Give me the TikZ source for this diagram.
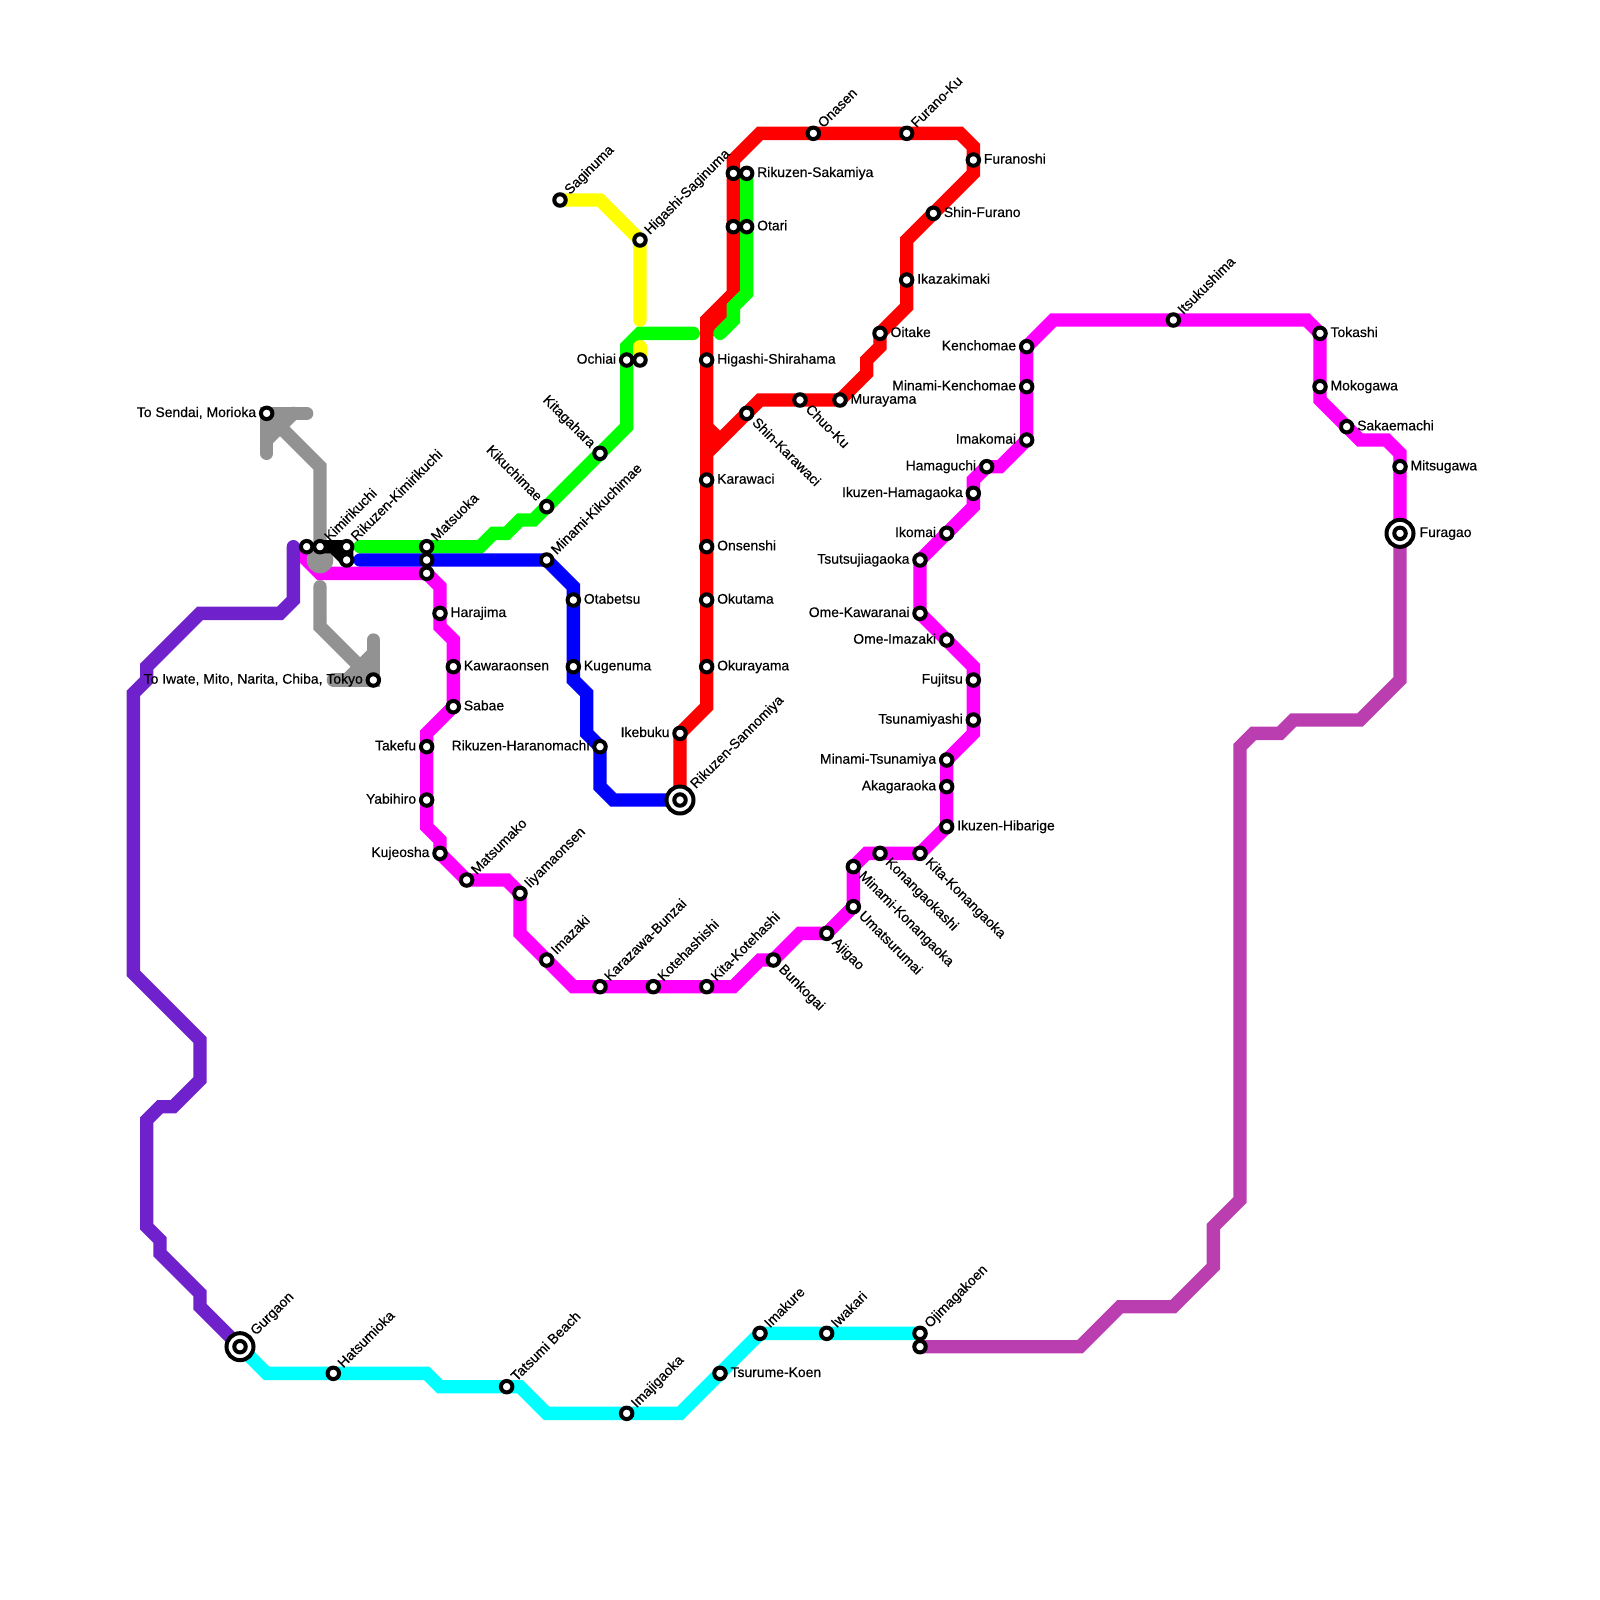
\documentclass[tikz,border=0pt]{standalone}
\usepackage{fontspec}
\setmainfont[FakeBold=0.4]{Liberation Sans}
\usetikzlibrary{backgrounds}

\definecolor{lineviolet}{HTML}{6F22CC}
\definecolor{lineorchid}{HTML}{BB3EB0}
\definecolor{linegray}{HTML}{929292}
\definecolor{linered}{RGB}{255,0,0}
\definecolor{linegreen}{RGB}{0,255,0}
\definecolor{lineblue}{RGB}{0,0,255}
\definecolor{lineyellow}{RGB}{255,255,0}
\definecolor{linecyan}{RGB}{0,255,255}
\definecolor{linemagenta}{RGB}{255,0,255}

\tikzset{
  line/.style={line width=10pt, line cap=round, line join=miter, miter limit=4},
  stn/.style={circle, draw=black, fill=white, line width=3pt, minimum size=8.6pt, inner sep=0pt},
  stnbig/.style={circle, draw=black, fill=white, line width=3pt, minimum size=20.25pt, inner sep=0pt},
  txt/.style={inner sep=0pt, font=\fontsize{10.45}{10.45}\selectfont, text height=7.5pt, text depth=2pt},
  toR/.style={txt, anchor=west, xshift=7.7pt},
  toRbig/.style={txt, anchor=west, xshift=14.5pt},
  toL/.style={txt, anchor=east, xshift=-7.7pt},
  toUR/.style={txt, rotate=45, anchor=west, shift={(7.7pt,0pt)}},
  toURbig/.style={txt, rotate=45, anchor=west, shift={(14pt,0pt)}},
  toDR/.style={txt, rotate=-45, anchor=west, shift={(7.7pt,0pt)}},
  toUL/.style={txt, rotate=-45, anchor=east, shift={(-7.7pt,0pt)}}
}

\newcommand{\station}[4]{\node[stn] (#1) at (#2) {}; \node[#3] (#1-txt) at (#1.center) {#4};}
\newcommand{\terminus}[4]{\node[stnbig] (#1-big) at (#2) {}; \node[stn] (#1) at (#2) {}; \node[#3] (#1-txt) at (#1.center) {#4};}

\begin{document}
\begin{tikzpicture}[x=10pt, y=-10pt]
  \useasboundingbox (0,0) rectangle (120,120);

  % stations, west side
  \station{sendai}{20,31}{toL}{To Sendai, Morioka}
  \station{iwate}{28,51}{toL}{To Iwate, Mito, Narita, Chiba, Tokyo}
  \station{nolabela}{23,41}{txt}{}
  \station{kimirikuchi}{24,41}{toUR}{Kimirikuchi}
  \station{rkimirikuchi}{26,41}{toUR}{Rikuzen-Kimirikuchi}
  \station{rkimirikuchib}{26,42}{txt}{}
  \station{matsuoka}{32,41}{toUR}{Matsuoka}
  \station{matsuokab}{32,42}{txt}{}
  \station{matsuokac}{32,43}{txt}{}
  \station{harajima}{33,46}{toR}{Harajima}
  \station{kawaraonsen}{34,50}{toR}{Kawaraonsen}
  \station{sabae}{34,53}{toR}{Sabae}
  \station{takefu}{32,56}{toL}{Takefu}
  \station{yabihiro}{32,60}{toL}{Yabihiro}
  \station{kujeosha}{33,64}{toL}{Kujeosha}
  \station{matsumako}{35,66}{toUR}{Matsumako}
  \station{iiyamaonsen}{39,67}{toUR}{Iiyamaonsen}
  \station{imazaki}{41,72}{toUR}{Imazaki}
  \station{karazawa}{45,74}{toUR}{Karazawa-Bunzai}
  \station{kotehashishi}{49,74}{toUR}{Kotehashishi}
  \station{kitakotehashi}{53,74}{toUR}{Kita-Kotehashi}
  \station{bunkogai}{58,72}{toDR}{Bunkogai}
  \station{ajigao}{62,70}{toDR}{Ajigao}
  \station{umatsurumai}{64,68}{toDR}{Umatsurumai}
  \station{mkonangaoka}{64,65}{toDR}{Minami-Konangaoka}
  \station{konangaokashi}{66,64}{toDR}{Konangaokashi}
  \station{kitakonangaoka}{69,64}{toDR}{Kita-Konangaoka}

  % stations, middle
  \station{kikuchimae}{41,38}{toUL}{Kikuchimae}
  \station{kitagahara}{45,34}{toUL}{Kitagahara}
  \station{ochiai}{47,27}{toL}{Ochiai}
  \station{ochiaib}{48,27}{txt}{}
  \station{saginuma}{42,15}{toUR}{Saginuma}
  \station{hsaginuma}{48,18}{toUR}{Higashi-Saginuma}
  \station{mkikuchimae}{41,42}{toUR}{Minami-Kikuchimae}
  \station{otabetsu}{43,45}{toR}{Otabetsu}
  \station{kugenuma}{43,50}{toR}{Kugenuma}
  \station{haranomachi}{45,56}{toL}{Rikuzen-Haranomachi}
  \station{ikebuku}{51,55}{toL}{Ikebuku}
  \terminus{sannomiya}{51,60}{toURbig}{Rikuzen-Sannomiya}
  \station{okurayama}{53,50}{toR}{Okurayama}
  \station{okutama}{53,45}{toR}{Okutama}
  \station{onsenshi}{53,41}{toR}{Onsenshi}
  \station{karawaci}{53,36}{toR}{Karawaci}
  \station{hshirahama}{53,27}{toR}{Higashi-Shirahama}
  \station{skarawaci}{56,31}{toDR}{Shin-Karawaci}
  \station{chuoku}{60,30}{toDR}{Chuo-Ku}
  \station{murayama}{63,30}{toR}{Murayama}
  \station{oitake}{66,25}{toR}{Oitake}
  \station{ikazakimaki}{68,21}{toR}{Ikazakimaki}
  \station{shinfurano}{70,16}{toR}{Shin-Furano}
  \station{furanoshi}{73,12}{toR}{Furanoshi}
  \station{furanoku}{68,10}{toUR}{Furano-Ku}
  \station{onasen}{61,10}{toUR}{Onasen}
  \station{sakamiyab}{55,13}{txt}{}
  \station{sakamiya}{56,13}{toR}{Rikuzen-Sakamiya}
  \station{otarib}{55,17}{txt}{}
  \station{otari}{56,17}{toR}{Otari}

  % stations, east side
  \station{itsukushima}{88,24}{toUR}{Itsukushima}
  \station{tokashi}{99,25}{toR}{Tokashi}
  \station{mokogawa}{99,29}{toR}{Mokogawa}
  \station{sakaemachi}{101,32}{toR}{Sakaemachi}
  \station{mitsugawa}{105,35}{toR}{Mitsugawa}
  \terminus{furagao}{105,40}{toRbig}{Furagao}
  \station{kenchomae}{77,26}{toL}{Kenchomae}
  \station{mkenchomae}{77,29}{toL}{Minami-Kenchomae}
  \station{imakomai}{77,33}{toL}{Imakomai}
  \station{hamaguchi}{74,35}{toL}{Hamaguchi}
  \station{ihamagaoka}{73,37}{toL}{Ikuzen-Hamagaoka}
  \station{ikomai}{71,40}{toL}{Ikomai}
  \station{tsutsujiagaoka}{69,42}{toL}{Tsutsujiagaoka}
  \station{omekawaranai}{69,46}{toL}{Ome-Kawaranai}
  \station{omeimazaki}{71,48}{toL}{Ome-Imazaki}
  \station{fujitsu}{73,51}{toL}{Fujitsu}
  \station{tsunamiyashi}{73,54}{toL}{Tsunamiyashi}
  \station{mtsunamiya}{71,57}{toL}{Minami-Tsunamiya}
  \station{akagaraoka}{71,59}{toL}{Akagaraoka}
  \station{hibarige}{71,62}{toR}{Ikuzen-Hibarige}

  % stations, south
  \terminus{gurgaon}{18,101}{toURbig}{Gurgaon}
  \station{hatsumioka}{25,103}{toUR}{Hatsumioka}
  \station{tatsumi}{38,104}{toUR}{Tatsumi Beach}
  \station{imajigaoka}{47,106}{toUR}{Imajigaoka}
  \station{tsurume}{54,103}{toR}{Tsurume-Koen}
  \station{imakure}{57,100}{toUR}{Imakure}
  \station{iwakari}{62,100}{toUR}{Iwakari}
  \station{ojimagakoen}{69,100}{toUR}{Ojimagakoen}
  \station{ojimagakoenb}{69,101}{txt}{}

  \begin{pgfonlayer}{background}
    % free line ends
    \coordinate (violetend) at (22,41);
    \coordinate (yellowend) at (48,24);
    \coordinate (greenend) at (52,25);
    \coordinate (greenbend) at (54,25);
    \coordinate (greenstart) at (27,41);
    \coordinate (bluestart) at (27,42);
    \coordinate (grayn) at (23,31);
    \coordinate (graynb) at (20,34);
    \coordinate (grays) at (24,44);
    \coordinate (graysb) at (28,48);
    \coordinate (graysc) at (25,51);

    \draw[line, lineviolet] (violetend) -- (22,45) -- (21,46) -- (15,46) -- (11,50) -- (11,51) -- (10,52)
      -- (10,73) -- (15,78) -- (15,81) -- (13,83) -- (12,83) -- (11,84) -- (11,92) -- (12,93) -- (12,94)
      -- (15,97) -- (15,98) -- (gurgaon.center);
    \draw[line, linecyan] (gurgaon.center) -- (20,103) -- (hatsumioka.center) -- (32,103) -- (33,104)
      -- (tatsumi.center) -- (39,104) -- (41,106) -- (imajigaoka.center) -- (51,106) -- (tsurume.center)
      -- (imakure.center) -- (iwakari.center) -- (ojimagakoen.center);
    \draw[line, lineorchid] (ojimagakoenb.center) -- (81,101) -- (84,98) -- (88,98) -- (91,95) -- (91,92)
      -- (93,90) -- (93,56) -- (94,55) -- (96,55) -- (97,54) -- (102,54) -- (105,51) -- (furagao.center);
    \draw[line, linemagenta] (furagao.center) -- (mitsugawa.center) -- (105,34) -- (104,33) -- (102,33)
      -- (sakaemachi.center) -- (99,30) -- (mokogawa.center) -- (tokashi.center) -- (98,24)
      -- (itsukushima.center) -- (79,24) -- (kenchomae.center) -- (mkenchomae.center) -- (imakomai.center)
      -- (75,35) -- (hamaguchi.center) -- (73,36) -- (ihamagaoka.center) -- (73,38) -- (ikomai.center)
      -- (tsutsujiagaoka.center) -- (omekawaranai.center) -- (omeimazaki.center) -- (73,50) -- (fujitsu.center)
      -- (tsunamiyashi.center) -- (73,55) -- (mtsunamiya.center) -- (akagaraoka.center) -- (hibarige.center)
      -- (kitakonangaoka.center) -- (konangaokashi.center) -- (65,64) -- (mkonangaoka.center)
      -- (umatsurumai.center) -- (ajigao.center) -- (60,70) -- (bunkogai.center) -- (57,72) -- (55,74)
      -- (kitakotehashi.center) -- (kotehashishi.center) -- (karazawa.center) -- (43,74) -- (imazaki.center)
      -- (39,70) -- (iiyamaonsen.center) -- (38,66) -- (matsumako.center) -- (kujeosha.center) -- (33,63)
      -- (32,62) -- (yabihiro.center) -- (takefu.center) -- (32,55) -- (sabae.center) -- (kawaraonsen.center)
      -- (34,48) -- (33,47) -- (harajima.center) -- (33,44) -- (matsuokac.center) -- (24,43) -- (23,42)
      -- (nolabela.center);

    \draw[line, linegray] (grayn) -- (sendai.center) -- (graynb);
    \draw[line, linegray] (22,31) -- (20,33);
    \draw[line, linegray] (sendai.center) -- (24,35) -- (kimirikuchi.center);
    \fill[linegray] (24,42) circle[radius=1];
    \draw[line, linegray] (grays) -- (24,47) -- (iwate.center);
    \draw[line, linegray] (graysc) -- (iwate.center) -- (graysb);
    \draw[line, linegray] (28,49) -- (26,51);

    \draw[line, linered] (sannomiya.center) -- (ikebuku.center) -- (53,53) -- (okurayama.center) -- (okutama.center)
      -- (onsenshi.center) -- (karawaci.center) -- (hshirahama.center) -- (53,24) -- (55,22)
      -- (otarib.center) -- (sakamiyab.center) -- (55,12) -- (57,10) -- (onasen.center) -- (furanoku.center)
      -- (72,10) -- (73,11) -- (furanoshi.center) -- (73,13) -- (shinfurano.center) -- (68,18)
      -- (ikazakimaki.center) -- (68,23) -- (oitake.center) -- (66,26) -- (65,27) -- (65,28)
      -- (murayama.center) -- (chuoku.center) -- (57,30) -- (skarawaci.center) -- (53,34);
    \draw[line, linered, line cap=butt] (53,32) -- (54,33);
    \draw[line, linered] (53,25) -- (55,23) -- (55,22);

    \draw[line, linegreen] (greenstart) -- (matsuoka.center) -- (36,41) -- (37,40) -- (38,40) -- (39,39) -- (40,39)
      -- (kikuchimae.center) -- (kitagahara.center) -- (47,32) -- (ochiai.center) -- (47,26) -- (48,25)
      -- (greenend);
    \draw[line, linegreen] (sakamiya.center) -- (otari.center) -- (56,22) -- (55,23) -- (55,24) -- (greenbend);
    \draw[line, lineblue] (bluestart) -- (matsuokab.center) -- (mkikuchimae.center) -- (43,44) -- (otabetsu.center)
      -- (kugenuma.center) -- (43,51) -- (44,52) -- (44,55) -- (haranomachi.center) -- (45,59) -- (46,60)
      -- (sannomiya.center);
    \draw[line, lineyellow] (saginuma.center) -- (45,15) -- (hsaginuma.center) -- (yellowend);
    \draw[line, lineyellow] (48,26) -- (ochiaib.center);
    \draw[line, black, line join=round] (kimirikuchi.center) -- (rkimirikuchi.center) -- (rkimirikuchib.center) -- (25,41);
  \end{pgfonlayer}
\end{tikzpicture}
\end{document}
